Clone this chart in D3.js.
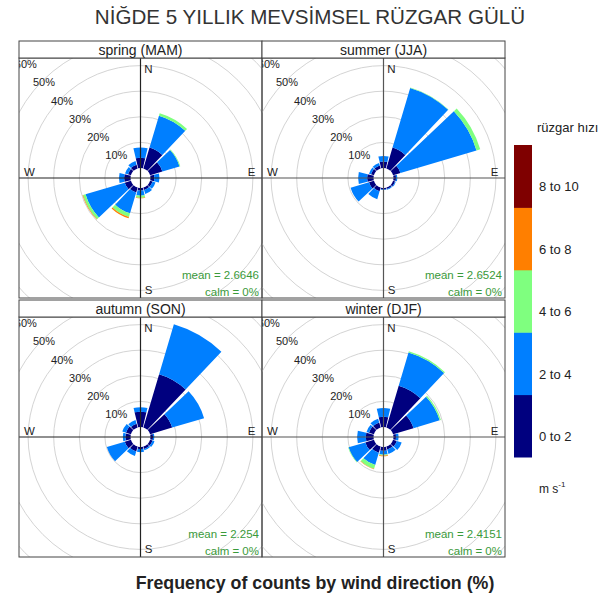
<!DOCTYPE html>
<html>
<head>
<meta charset="utf-8">
<script src="https://cdn.jsdelivr.net/npm/d3@7"></script>
<style>
  body { margin: 0; background: #fff; }
  text { font-family: "Liberation Sans", Arial, sans-serif; }
</style>
</head>
<body>
<svg id="chart" width="614" height="601"></svg>
<script>
// Wind direction sectors (degrees from north, clockwise)
const directions = [0, 30, 60, 90, 120, 150, 180, 210, 240, 270, 300, 330];
// Speed classes (m/s) and their jet-style colours
const speedBins = ["0 to 2", "2 to 4", "4 to 6", "6 to 8", "8 to 10"];
const speedColors = ["#00007f", "#007fff", "#7fff7f", "#ff7f00", "#7f0000"];
// Seasons, their mean speed and calm share
const seasonLabels = ["spring (MAM)", "summer (JJA)", "autumn (SON)", "winter (DJF)"];
const meanSpeed = ["2.6646", "2.6524", "2.254", "2.4151"];
const calmShare = ["0%", "0%", "0%", "0%"];
// Percentage rings
const ringTicks = [10, 20, 30, 40, 50, 60];
const compass = ["N", "E", "S", "W"];

// Frequency (%) per direction sector; columns follow speedBins
const spring = [
  [4.0, 4.0, 0.0, 0.0, 0],
  [8.5, 13.0, 1.0, 0.0, 0],
  [5.0, 7.0, 0.3, 0.0, 0],
  [1.5, 2.0, 0.0, 0.0, 0],
  [1.0, 1.2, 0.0, 0.0, 0],
  [1.0, 1.6, 0.0, 0.0, 0],
  [1.0, 2.0, 0.8, 0.2, 0],
  [2.0, 8.5, 1.5, 0.5, 0],
  [2.5, 16.0, 1.0, 0.2, 0],
  [2.5, 2.0, 0.0, 0.0, 0],
  [1.2, 1.2, 0.0, 0.0, 0],
  [1.5, 1.5, 0.0, 0.0, 0]
];
const summer = [
  [2.5, 2.2, 0.0, 0, 0],
  [8.5, 24.3, 0.2, 0, 0],
  [3.0, 31.0, 1.5, 0, 0],
  [1.0, 0.5, 0.0, 0, 0],
  [0.8, 0.3, 0.0, 0, 0],
  [0.6, 0.3, 0.0, 0, 0],
  [0.6, 0.2, 0.0, 0, 0],
  [1.5, 3.2, 0.0, 0, 0],
  [2.0, 7.5, 0.0, 0, 0],
  [2.5, 3.5, 0.0, 0, 0],
  [1.2, 0.8, 0.0, 0, 0],
  [1.2, 1.0, 0.0, 0, 0]
];
const autumn = [
  [6.0, 1.7, 0, 0, 0],
  [21.7, 20.3, 0, 0, 0],
  [9.0, 13.0, 0, 0, 0],
  [1.0, 0.5, 0, 0, 0],
  [1.0, 0.8, 0, 0, 0],
  [1.0, 0.5, 0, 0, 0],
  [0.8, 1.2, 0, 0, 0],
  [2.0, 1.8, 0, 0, 0],
  [2.5, 7.3, 0, 0, 0],
  [2.0, 1.0, 0, 0, 0],
  [2.0, 1.5, 0, 0, 0],
  [1.5, 1.5, 0, 0, 0]
];
const winter = [
  [4.0, 3.4, 0.0, 0.0, 0],
  [17.0, 13.5, 0.5, 0.0, 0],
  [8.3, 10.7, 0.5, 0.0, 0],
  [1.0, 1.0, 0.0, 0.0, 0],
  [1.5, 2.0, 0.0, 0.0, 0],
  [1.2, 1.8, 0.0, 0.0, 0],
  [1.5, 1.5, 0.3, 0.3, 0],
  [2.5, 5.0, 1.5, 0.2, 0],
  [3.5, 6.8, 0.2, 0.0, 0],
  [3.0, 3.4, 0.0, 0.0, 0],
  [2.0, 1.0, 0.0, 0.0, 0],
  [2.0, 1.5, 0.0, 0.0, 0]
];
const seasonData = [spring, summer, autumn, winter];

const svg = d3.select("#chart");
const W = 614, H = 601;
svg.append("rect").attr("width", W).attr("height", H).attr("fill", "#fff");

// Title and caption
svg.append("text").attr("x", 310).attr("y", 24).attr("text-anchor", "middle")
  .attr("font-size", 20.6).attr("fill", "#333").text("NİĞDE 5 YILLIK MEVSİMSEL RÜZGAR GÜLÜ");
svg.append("text").attr("x", 315).attr("y", 589).attr("text-anchor", "middle")
  .attr("font-size", 17.8).attr("font-weight", "bold").attr("fill", "#222")
  .text("Frequency of counts by wind direction (%)");

// Panel grid
const colX = [19, 262];
const rowY = [41, 300];
const panelW = 243, stripH = 17, panelH = 240;

const r = d3.scaleLinear().domain([0, 60]).range([10, 163.6]);
const halfWidth = 13.5; // half sector width, degrees
const toRad = d => d * Math.PI / 180;
const arc = d3.arc();

const stack = d3.stack().keys(d3.range(speedBins.length)).value((row, k) => row[k]);

seasonData.forEach((rows, i) => {
  const x0 = colX[i % 2], y0 = rowY[Math.floor(i / 2)];
  const py = y0 + stripH;
  const cx = x0 + panelW / 2, cy = py + panelH / 2;
  const axisColor = i % 2 ? "#555" : "#222";
  const g = svg.append("g");
  const clipId = "clip" + i;
  svg.append("clipPath").attr("id", clipId).append("rect")
    .attr("x", x0).attr("y", py).attr("width", panelW).attr("height", panelH);
  const inner = g.append("g").attr("clip-path", `url(#${clipId})`);
  const c = inner.append("g").attr("transform", `translate(${cx},${cy})`);

  // grid rings
  c.selectAll("circle.ring").data(ringTicks).join("circle")
    .attr("r", d => r(d)).attr("fill", "none").attr("stroke", "#d4d4d4").attr("stroke-width", 1);

  // stacked wedges
  const series = stack(rows);
  series.forEach((s, k) => {
    c.append("g").selectAll("path").data(s.map((seg, j) => ({seg, dir: directions[j]})))
      .join("path")
      .filter(d => d.seg[1] - d.seg[0] > 0)
      .attr("d", d => arc({
        innerRadius: r(d.seg[0]), outerRadius: r(d.seg[1]),
        startAngle: toRad(d.dir - halfWidth), endAngle: toRad(d.dir + halfWidth)
      }))
      .attr("fill", speedColors[k]);
  });

  // compass axes
  c.append("line").attr("x1", 0).attr("x2", 0).attr("y1", -panelH).attr("y2", panelH)
    .attr("stroke", axisColor).attr("stroke-width", 1.2);
  c.append("line").attr("y1", 0).attr("y2", 0).attr("x1", -panelW).attr("x2", panelW)
    .attr("stroke", axisColor).attr("stroke-width", 1.2);

  // ring labels along the north-west diagonal
  c.selectAll("text.pct").data(ringTicks).join("text")
    .attr("x", d => -r(d) * Math.SQRT1_2 + 1)
    .attr("y", d => -r(d) * Math.SQRT1_2 + 2)
    .attr("text-anchor", "middle").attr("dominant-baseline", "central")
    .attr("font-size", 11).attr("fill", "#222").text(d => d + "%");

  // compass letters
  const pos = {N: [8, -109], E: [111, -6], S: [8, 112], W: [-111, -6]};
  c.selectAll("text.cmp").data(compass).join("text")
    .attr("x", d => pos[d][0]).attr("y", d => pos[d][1])
    .attr("text-anchor", "middle").attr("dominant-baseline", "central")
    .attr("font-size", 11.5).attr("fill", "#222").text(d => d);

  // mean speed and calm annotations
  inner.append("text").attr("x", x0 + panelW - 3).attr("y", py + panelH - 23)
    .attr("text-anchor", "end").attr("dominant-baseline", "central")
    .attr("font-size", 11.5).attr("fill", "#3a9a3a").text(`mean = ${meanSpeed[i]}`);
  inner.append("text").attr("x", x0 + panelW - 3).attr("y", py + panelH - 6)
    .attr("text-anchor", "end").attr("dominant-baseline", "central")
    .attr("font-size", 11.5).attr("fill", "#3a9a3a").text(`calm = ${calmShare[i]}`);

  // panel frame and strip
  g.append("rect").attr("x", x0).attr("y", py).attr("width", panelW).attr("height", panelH)
    .attr("fill", "none").attr("stroke", "#444").attr("stroke-width", 1);
  g.append("rect").attr("x", x0).attr("y", y0).attr("width", panelW).attr("height", stripH)
    .attr("fill", "#fff").attr("stroke", "#444").attr("stroke-width", 1);
  g.append("text").attr("x", cx).attr("y", y0 + stripH / 2 + 0.5)
    .attr("text-anchor", "middle").attr("dominant-baseline", "central")
    .attr("font-size", 14).attr("fill", "#222").text(seasonLabels[i]);
});

// Colour key
const key = svg.append("g");
key.append("text").attr("x", 537).attr("y", 127).attr("dominant-baseline", "central")
  .attr("font-size", 13).attr("fill", "#222").text("rüzgar hızı");
const keyY = d3.scaleBand().domain(d3.range(speedBins.length).reverse()).range([145, 457]);
key.selectAll("rect").data(d3.range(speedBins.length)).join("rect")
  .attr("x", 514).attr("width", 18)
  .attr("y", d => keyY(d)).attr("height", keyY.bandwidth() + 0.5)
  .attr("fill", d => speedColors[d]);
key.selectAll("text.lbl").data(d3.range(speedBins.length)).join("text")
  .attr("x", 539).attr("y", d => keyY(d) + keyY.bandwidth() * 0.67)
  .attr("dominant-baseline", "central")
  .attr("font-size", 13).attr("fill", "#222").text(d => speedBins[d]);
const unit = key.append("text").attr("x", 539).attr("y", 489)
  .attr("dominant-baseline", "central").attr("font-size", 12).attr("fill", "#222");
unit.append("tspan").text("m s");
unit.append("tspan").attr("dy", -5).attr("font-size", 8).text("-1");
</script>
</body>
</html>
